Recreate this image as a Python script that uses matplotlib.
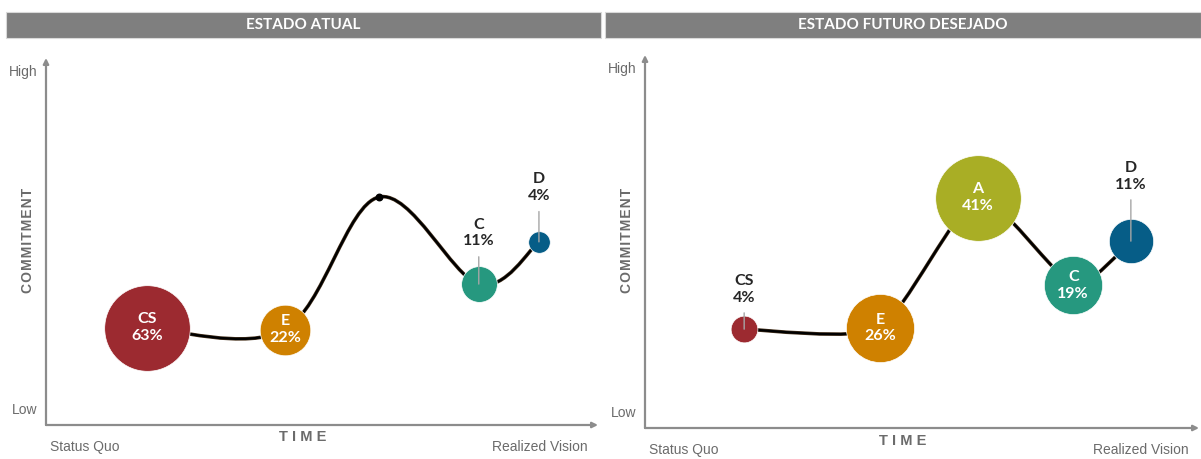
import matplotlib
matplotlib.use("Agg")
import matplotlib.pyplot as plt
from matplotlib import font_manager
from matplotlib.patches import Rectangle, PathPatch
from matplotlib.path import Path
import numpy as np

# === DATA ===
stages = ["CS", "E", "A", "C", "D"]
colors = ["#9c2a30", "#cf8100", "#a9ae25", "#26987f", "#065d87"]

# current state (A has no share, only a point on the curve)
cur_time = [18.3, 43.3, 60.3, 78.4, 89.3]
cur_commit = [26.5, 26.0, 62.1, 38.4, 49.9]
cur_share = [63, 22, 0, 11, 4]

# desired future state
fut_time = [17.9, 42.4, 60.1, 77.3, 87.7]
fut_commit = [26.5, 26.8, 61.7, 38.3, 50.1]
fut_share = [4, 26, 41, 19, 11]

titles = ["ESTADO ATUAL", "ESTADO FUTURO DESEJADO"]

# how far (px) outside labels sit above their bubble
cur_lab_off = [0, 0, 0, 51, 54]
fut_lab_off = [40, 0, 0, 0, 65]

# === FONTS ===
names = {f.name for f in font_manager.fontManager.ttflist}
narrow = "Liberation Sans Narrow" if "Liberation Sans Narrow" in names else "Liberation Sans"
narrow_size = 12 if narrow == "Liberation Sans Narrow" else 10
label_font = "Lato" if "Lato" in names else "DejaVu Sans"

gray_txt = "#6b6b6b"
axis_col = "#8c8c8c"


def smooth_path(xs, ys, tension):
    # catmull-rom style bezier through the points
    pts = np.column_stack([xs, ys])
    ext = np.vstack([pts[0], pts, pts[-1]])
    verts = [pts[0]]
    codes = [Path.MOVETO]
    for i in range(len(pts) - 1):
        p0, p1, p2, p3 = ext[i], ext[i + 1], ext[i + 2], ext[i + 3]
        c1 = p1 + (p2 - p0) / 6 * tension
        c2 = p2 - (p3 - p1) / 6 * tension
        verts += [c1, c2, p2]
        codes += [Path.CURVE4] * 3
    return Path(verts, codes)


def draw_panel(ax, t, c, share, lab_off, tension):
    ax.set_xlim(0, 100)
    ax.set_ylim(0, 100)
    ax.axis("off")

    # axes with arrows
    ax.annotate("", xy=(0, 1), xytext=(0, 0), xycoords="axes fraction",
                arrowprops=dict(arrowstyle="-|>", color=axis_col, lw=1.6,
                                mutation_scale=8, shrinkA=0, shrinkB=0))
    ax.annotate("", xy=(1, 0), xytext=(0, 0), xycoords="axes fraction",
                arrowprops=dict(arrowstyle="-|>", color=axis_col, lw=1.6,
                                mutation_scale=8, shrinkA=0, shrinkB=0))

    # curve
    ax.add_patch(PathPatch(smooth_path(t, c, tension), fill=False,
                           edgecolor="#4a3520", lw=2.6, zorder=2))
    ax.add_patch(PathPatch(smooth_path(t, c, tension), fill=False,
                           edgecolor="black", lw=1.7, zorder=2))

    # bubbles, area proportional to share
    smax = max(share)
    sizes = [3800 * s / smax for s in share]
    for x, y, s, v, col, name, off in zip(t, c, sizes, share, colors, stages, lab_off):
        if v == 0:
            ax.scatter([x], [y], s=22, color="black", zorder=3)
            continue
        ax.scatter([x], [y], s=s, color=col, edgecolors="white",
                   linewidths=0.5, zorder=3)
        txt = f"{name}\n{v}%"
        if off == 0:
            ax.text(x, y, txt, color="white", ha="center", va="center",
                    fontsize=11.5, fontweight="bold", family=label_font,
                    linespacing=1.25, zorder=4)
        else:
            ax.annotate(txt, xy=(x, y), xytext=(0, off * 0.72),
                        textcoords="offset points", ha="center", va="center",
                        fontsize=11.5, fontweight="bold", family=label_font,
                        color="#262626", linespacing=1.25, zorder=4,
                        arrowprops=dict(arrowstyle="-", color="#a6a6a6",
                                        lw=1.0, shrinkA=4, shrinkB=0))

    # axis texts
    ax.text(-0.016, 0.963, "High", transform=ax.transAxes, ha="right",
            va="center", fontsize=narrow_size, family=narrow, color=gray_txt)
    ax.text(-0.016, 0.04, "Low", transform=ax.transAxes, ha="right",
            va="center", fontsize=narrow_size, family=narrow, color=gray_txt)
    ax.text(0.07, -0.06, "Status Quo", transform=ax.transAxes, ha="center",
            va="center", fontsize=narrow_size, family=narrow, color=gray_txt)
    ax.text(0.895, -0.06, "Realized Vision", transform=ax.transAxes,
            ha="center", va="center", fontsize=narrow_size, family=narrow,
            color=gray_txt)
    ax.text(0.465, -0.034, "T I M E", transform=ax.transAxes, ha="center",
            va="center", fontsize=10.5, fontweight="bold",
            family="Liberation Sans", color=gray_txt)
    ax.text(-0.032, 0.504, "C O M M I T M E N T".replace(" ", "\u200a"),
            transform=ax.transAxes, rotation=90, ha="center", va="center",
            fontsize=10, fontweight="bold",
            family=["Liberation Sans", "DejaVu Sans"], color=gray_txt)


fig = plt.figure(figsize=(12.01, 4.59), dpi=100)

ax1 = fig.add_axes([46 / 1201, 34 / 459, 552 / 1201, 367 / 459])
ax2 = fig.add_axes([645 / 1201, 31 / 459, 554 / 1201, 373 / 459])

draw_panel(ax1, cur_time, cur_commit, cur_share, cur_lab_off, 1.0)
draw_panel(ax2, fut_time, fut_commit, fut_share, fut_lab_off, 0.6)

# header bars
bars = [(6, 601), (605, 1201)]
for (x0, x1), title in zip(bars, titles):
    fig.add_artist(Rectangle((x0 / 1201, 421 / 459), (x1 - x0) / 1201, 26 / 459,
                             transform=fig.transFigure, facecolor="#7f7f7f",
                             edgecolor="#d9d9d9", lw=0.8))
    fig.text((x0 + x1) / 2 / 1201, 434 / 459, title, ha="center", va="center",
             color="white", fontsize=11, fontweight="bold", family=label_font)

fig.savefig("out.png", dpi=100)
